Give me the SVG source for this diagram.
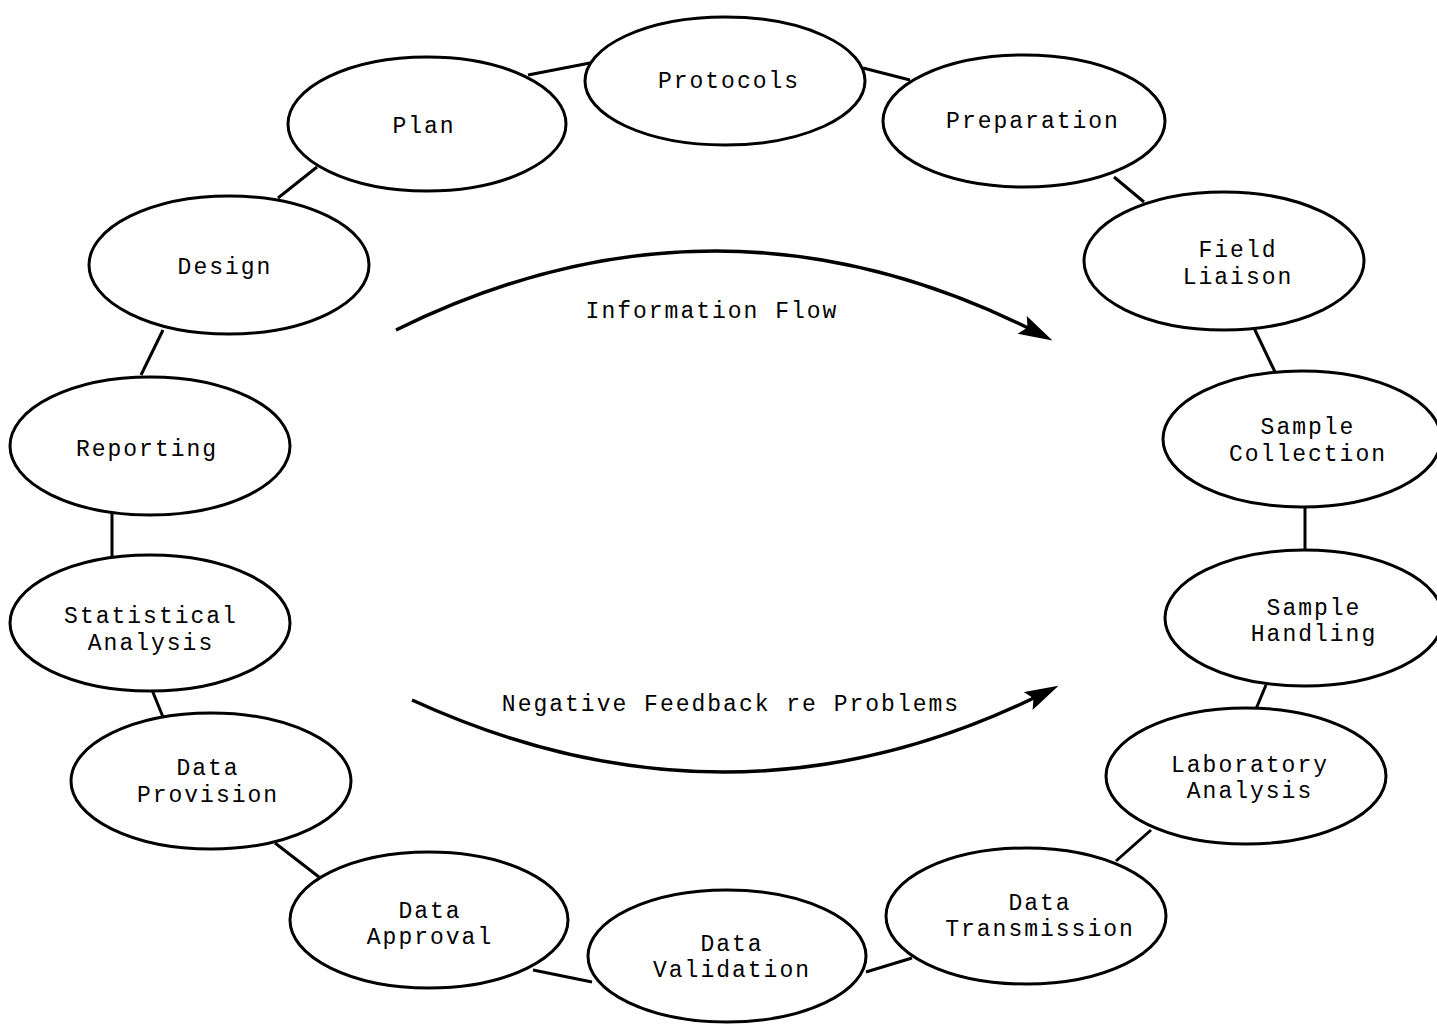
<svg xmlns="http://www.w3.org/2000/svg" width="1437" height="1028" viewBox="0 0 1437 1028">
<style>
.node ellipse{fill:#fff;stroke:#000;stroke-width:3}
.node text, .lbl{font-family:"Liberation Mono","Courier New",monospace;font-size:23px;letter-spacing:2px;fill:#000;text-anchor:middle}
.conn line{stroke:#000;stroke-width:3}
.arc{fill:none;stroke:#000;stroke-width:3.5}
</style>
<defs>
<marker id="ah" markerUnits="userSpaceOnUse" markerWidth="40" markerHeight="24" refX="20" refY="10" orient="auto" viewBox="0 0 40 24">
<path d="M0,0 L34,10 L0,20 L6,10 Z" fill="#000"/>
</marker>
</defs>
<rect width="1437" height="1028" fill="#fff"/>
<g id="connectors" class="conn">
<line x1="528" y1="75" x2="590" y2="63"/>
<line x1="863" y1="68" x2="910" y2="80"/>
<line x1="1114" y1="177" x2="1144" y2="202"/>
<line x1="1254" y1="328" x2="1275" y2="372"/>
<line x1="1305" y1="505" x2="1305" y2="551"/>
<line x1="1266" y1="685" x2="1256" y2="709"/>
<line x1="1151" y1="830" x2="1116" y2="861"/>
<line x1="912" y1="958" x2="866" y2="972"/>
<line x1="533" y1="970" x2="592" y2="982"/>
<line x1="319" y1="877" x2="275" y2="843"/>
<line x1="163" y1="717" x2="152" y2="690"/>
<line x1="112" y1="513" x2="112" y2="558"/>
<line x1="141" y1="375" x2="163" y2="330"/>
<line x1="278" y1="198" x2="317" y2="167"/>
<path class="arc" d="M396,330 Q720,170 1040,334" marker-end="url(#ah)"/>
<path class="arc" d="M412,700 Q735,848 1046,692" marker-end="url(#ah)"/>
</g>
<text class="lbl" x="712" y="318">Information Flow</text>
<text class="lbl" x="731" y="711">Negative Feedback re Problems</text>
<g id="protocols" class="node"><ellipse cx="725" cy="81" rx="140" ry="64"/><text x="729" y="88">Protocols</text></g>
<g id="plan" class="node"><ellipse cx="427" cy="124" rx="139" ry="67"/><text x="424" y="133">Plan</text></g>
<g id="preparation" class="node"><ellipse cx="1024" cy="121" rx="141" ry="66"/><text x="1033" y="128">Preparation</text></g>
<g id="design" class="node"><ellipse cx="229" cy="265" rx="140" ry="69"/><text x="225" y="274">Design</text></g>
<g id="field-liaison" class="node"><ellipse cx="1224" cy="261" rx="140" ry="69"/><text x="1238" y="257">Field</text><text x="1238" y="284">Liaison</text></g>
<g id="reporting" class="node"><ellipse cx="150" cy="446" rx="140" ry="69"/><text x="147" y="456">Reporting</text></g>
<g id="sample-collection" class="node"><ellipse cx="1302" cy="439" rx="139" ry="68"/><text x="1308" y="434">Sample</text><text x="1308" y="461">Collection</text></g>
<g id="statistical-analysis" class="node"><ellipse cx="150" cy="623" rx="140" ry="68"/><text x="151" y="623">Statistical</text><text x="151" y="650">Analysis</text></g>
<g id="sample-handling" class="node"><ellipse cx="1304" cy="618" rx="139" ry="68"/><text x="1314" y="615">Sample</text><text x="1314" y="641">Handling</text></g>
<g id="data-provision" class="node"><ellipse cx="211" cy="781" rx="140" ry="68"/><text x="208" y="775">Data</text><text x="208" y="802">Provision</text></g>
<g id="laboratory-analysis" class="node"><ellipse cx="1246" cy="776" rx="140" ry="68"/><text x="1250" y="772">Laboratory</text><text x="1250" y="798">Analysis</text></g>
<g id="data-approval" class="node"><ellipse cx="429" cy="920" rx="139" ry="68"/><text x="430" y="918">Data</text><text x="430" y="944">Approval</text></g>
<g id="data-validation" class="node"><ellipse cx="727" cy="956" rx="139" ry="66"/><text x="732" y="951">Data</text><text x="732" y="977">Validation</text></g>
<g id="data-transmission" class="node"><ellipse cx="1026" cy="916" rx="140" ry="68"/><text x="1040" y="910">Data</text><text x="1040" y="936">Transmission</text></g>
</svg>
